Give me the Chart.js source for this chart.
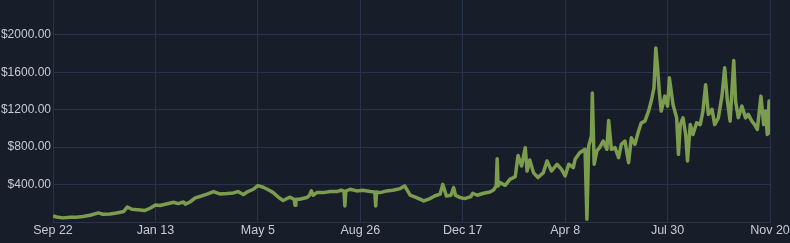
<!DOCTYPE html>
<html>
<head>
<meta charset="utf-8">
<script src="https://cdn.jsdelivr.net/npm/chart.js@4/dist/chart.umd.min.js"></script>
<style>
  html, body { margin: 0; padding: 0; background: #181d2a; }
  #wrap { width: 790px; height: 243px; }
</style>
</head>
<body>
<div id="wrap"><canvas id="myChart" width="790" height="243"></canvas></div>
<script>
// days counted from Sep 22 (first point)
var days = [
  0, 4, 11, 19, 26, 33, 41, 50, 55, 63, 70, 78, 82, 87, 96, 101, 107, 113, 118, 125, 133, 138, 144,
  146, 151, 157, 162, 170, 177, 184, 192, 199, 204, 210, 215, 221, 226, 232, 238, 243, 249, 254,
  261, 266, 267, 268, 272, 280, 283, 285, 287,
  291, 298, 306, 313, 318, 321, 322, 323, 328, 335, 342, 350, 355, 356, 357, 361, 368, 375, 383,
  388, 394, 401, 409, 416, 421, 427,
  430, 434, 439, 442, 444, 449, 454, 461, 463, 468, 475, 482, 486, 489, 490, 491, 493, 499, 504,
  510, 513, 517, 521, 523, 526, 530, 535, 541, 545, 550, 556, 561, 565, 569, 574,
  576, 581, 587, 589, 591, 594, 595, 597, 600, 603, 607, 611, 613, 616, 620, 624, 627, 631, 635,
  638, 642, 646, 649, 653, 657, 660, 663, 665, 667, 669, 671, 675, 678, 680, 684, 688, 690, 692,
  695, 698, 700, 703, 706, 710, 714, 717, 720, 723, 727, 730, 734, 738, 741, 744, 747, 751, 753,
  756, 760, 764, 767, 771, 774, 777, 781, 784, 786, 788, 790, 791
];
var prices = [
  65, 54, 44, 51, 51, 58, 72, 97, 83, 86, 97, 112, 161, 136, 129, 122, 147, 182, 176, 193, 211, 197, 214,
  190, 214, 257, 272, 297, 325, 300, 304, 311, 325, 293, 325, 350, 389, 371, 342, 314, 261, 229,
  265, 243, 179, 243, 243, 261, 286, 332, 286,
  314, 314, 325, 325, 339, 330, 172, 330, 350, 332, 339, 325, 320, 172, 320, 314, 332, 339, 357,
  385, 286, 261, 225, 250, 278, 297,
  402, 278, 286, 367, 286, 261, 250, 272, 307, 286, 307, 321, 342, 385, 676, 385, 421, 392, 456,
  485, 711, 598, 794, 545, 662, 528, 475, 528, 652, 545, 617, 563, 492, 617, 581,
  670, 740, 777, 30, 812, 918, 1378, 617, 759, 794, 865, 777, 1085, 777, 794, 688, 830, 865, 634,
  900, 830, 972, 1060, 1078, 1185, 1292, 1434, 1860, 1647, 1378, 1185, 1345, 1238, 1540, 1256, 1113, 723, 1041,
  1113, 935, 652, 1041, 935, 1060, 1041, 1185, 1467, 1150, 1203, 1041, 1113, 1345, 1647, 1292, 1078, 1725, 1292,
  1113, 1238, 1113, 1150, 1078, 1041, 988, 1345, 1041, 1185, 935, 1292, 935
];
var xTickDays = [0, 113, 226, 339, 452, 565, 678, 791];
var xLabels = ["Sep 22", "Jan 13", "May 5", "Aug 26", "Dec 17", "Apr 8", "Jul 30", "Nov 20"];
var yTicks = [0, 400, 800, 1200, 1600, 2000];

var points = [];
for (var i = 0; i < days.length; i++) {
  points.push({x: days[i], y: prices[i]});
}

var gridColor = "#29344a";
var textColor = "#c6cbd3";

var ctx = document.getElementById("myChart").getContext("2d");
var myChart = new Chart(ctx, {
  type: 'line',
  data: {
    datasets: [{
      data: points,
      borderColor: "#7c9c4e",
      borderWidth: 3.5,
      borderJoinStyle: 'round',
      pointRadius: 0,
      tension: 0,
      fill: false
    }]
  },
  options: {
    responsive: false,
    animation: false,
    events: [],
    layout: { padding: { top: 0, right: 20, bottom: 0, left: 0 } },
    plugins: { legend: { display: false }, tooltip: { enabled: false } },
    scales: {
      x: {
        type: 'linear',
        min: 0,
        max: 791,
        afterBuildTicks: function (scale) {
          scale.ticks = xTickDays.map(function (d) { return {value: d}; });
        },
        afterFit: function (scale) {
          scale.height = 21;
          scale.paddingLeft = 0;
          scale.paddingRight = 0;
        },
        grid: { color: gridColor, drawTicks: false },
        border: { color: gridColor },
        ticks: {
          autoSkip: false,
          maxRotation: 0,
          padding: 1,
          color: textColor,
          font: { family: "'Liberation Sans', Arial, sans-serif", size: 12.5 },
          callback: function (value) {
            var k = xTickDays.indexOf(value);
            return k >= 0 ? xLabels[k] : '';
          }
        }
      },
      y: {
        min: 0,
        max: 2372,
        afterBuildTicks: function (scale) {
          scale.ticks = yTicks.map(function (v) { return {value: v}; });
        },
        afterFit: function (scale) {
          scale.width = 53;
          scale.paddingTop = 0;
          scale.paddingBottom = 0;
        },
        grid: { color: gridColor, drawTicks: false },
        border: { color: gridColor },
        ticks: {
          padding: 2,
          color: textColor,
          font: { family: "'Liberation Sans', Arial, sans-serif", size: 12 },
          callback: function (value) {
            return value === 0 ? '' : '$' + value.toFixed(2);
          }
        }
      }
    }
  }
});
</script>
</body>
</html>
